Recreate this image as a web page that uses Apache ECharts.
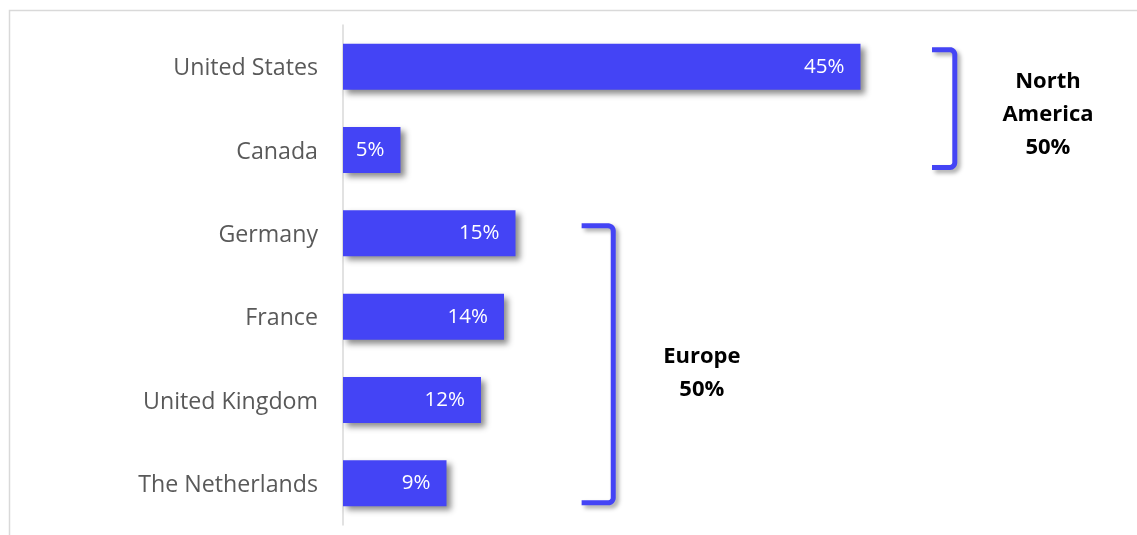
<!DOCTYPE html>
<html>
<head>
<meta charset="utf-8">
<script src="https://cdn.jsdelivr.net/npm/echarts@6/dist/echarts.min.js"></script>
<style>
  html, body { margin: 0; padding: 0; background: #fff; }
  #chart { width: 1137px; height: 535px; }
</style>
</head>
<body>
<div id="chart"></div>
<script>
// Market share by country, grouped into regions
const categories = ['United States', 'Canada', 'Germany', 'France', 'United Kingdom', 'The Netherlands'];
const shares = [45, 5, 15, 14, 12, 9];
const regionNames = ['North\nAmerica', 'Europe'];
const regionFirst = [0, 2];
const regionLast = [1, 5];

const BLUE = '#4444F5';
const FONT = '"Open Sans", sans-serif';

const chart = echarts.init(document.getElementById('chart'), null, { renderer: 'canvas' });

chart.setOption({
  animation: false,
  backgroundColor: '#fff',
  grid: { left: 343, top: 25, width: 690, height: 500, containLabel: false },
  xAxis: {
    type: 'value', min: 0, max: 60, show: false
  },
  yAxis: {
    type: 'category',
    data: categories,
    inverse: true,
    axisLine: { show: true, lineStyle: { color: '#d9d9d9', width: 1.5 } },
    axisTick: { show: false },
    axisLabel: {
      color: '#595959', fontSize: 23.2, fontFamily: FONT, margin: 25,
      verticalAlign: 'top', lineHeight: 4
    }
  },
  series: [{
    type: 'bar',
    data: shares,
    barWidth: 46,
    itemStyle: {
      color: BLUE,
      shadowColor: 'rgba(0,0,0,0.45)',
      shadowBlur: 6,
      shadowOffsetX: 4,
      shadowOffsetY: 4
    },
    label: {
      show: true,
      position: 'insideRight',
      distance: 16,
      color: '#fff',
      fontSize: 20.5,
      fontFamily: FONT,
      formatter: p => p.value + '%'
    }
  }]
});

// Bracket outline: arm, rounded corner, vertical stroke, rounded corner, arm
function bracketPoints(xLeft, xRight, yTop, yBottom, r) {
  const pts = [[xLeft, yTop]];
  const steps = 6;
  for (let s = 0; s <= steps; s++) {
    const a = -Math.PI / 2 + (Math.PI / 2) * (s / steps);
    pts.push([xRight - r + r * Math.cos(a), yTop + r + r * Math.sin(a)]);
  }
  for (let s = 0; s <= steps; s++) {
    const a = (Math.PI / 2) * (s / steps);
    pts.push([xRight - r + r * Math.cos(a), yBottom - r + r * Math.sin(a)]);
  }
  pts.push([xLeft, yBottom]);
  return pts;
}

const bracketX = [53.2, 23.5];    // vertical stroke, in axis units
const bracketArm = [1.98, 2.75];  // arm length, in axis units
const textX = [61.3, 31.2];       // text centre, in axis units
const topInset = [6, 15.5];
const bottomInset = [5.5, 3.5];
const textShift = [6, 9];

const halfBar = 23;
const graphics = [
  {
    type: 'rect', silent: true,
    shape: { x: 9.5, y: 10.5, width: 1140, height: 540 },
    style: { fill: 'none', stroke: '#d9d9d9', lineWidth: 1.5 }
  }
];

regionNames.forEach((name, i) => {
  const yTop = chart.convertToPixel({ yAxisIndex: 0 }, categories[regionFirst[i]]) - halfBar + topInset[i];
  const yBot = chart.convertToPixel({ yAxisIndex: 0 }, categories[regionLast[i]]) + halfBar - bottomInset[i];
  const xR = chart.convertToPixel({ xAxisIndex: 0 }, bracketX[i]);
  const xL = chart.convertToPixel({ xAxisIndex: 0 }, bracketX[i] - bracketArm[i]);
  const xT = chart.convertToPixel({ xAxisIndex: 0 }, textX[i]);
  let total = 0;
  for (let k = regionFirst[i]; k <= regionLast[i]; k++) total += shares[k];

  graphics.push({
    type: 'polyline', silent: true,
    shape: { points: bracketPoints(xL, xR, yTop, yBot, 5) },
    style: {
      fill: null, stroke: BLUE, lineWidth: 5, lineCap: 'butt', lineJoin: 'round',
      shadowColor: 'rgba(0,0,0,0.35)', shadowBlur: 4, shadowOffsetX: 3, shadowOffsetY: 3
    }
  });
  graphics.push({
    type: 'text', silent: true,
    x: xT, y: (yTop + yBot) / 2 + textShift[i],
    style: {
      text: name + '\n' + total + '%',
      fill: '#000', fontSize: 22, fontWeight: 'bold', fontFamily: FONT,
      align: 'center', verticalAlign: 'middle', lineHeight: 33
    }
  });
});

chart.setOption({ graphic: graphics });
</script>
</body>
</html>
